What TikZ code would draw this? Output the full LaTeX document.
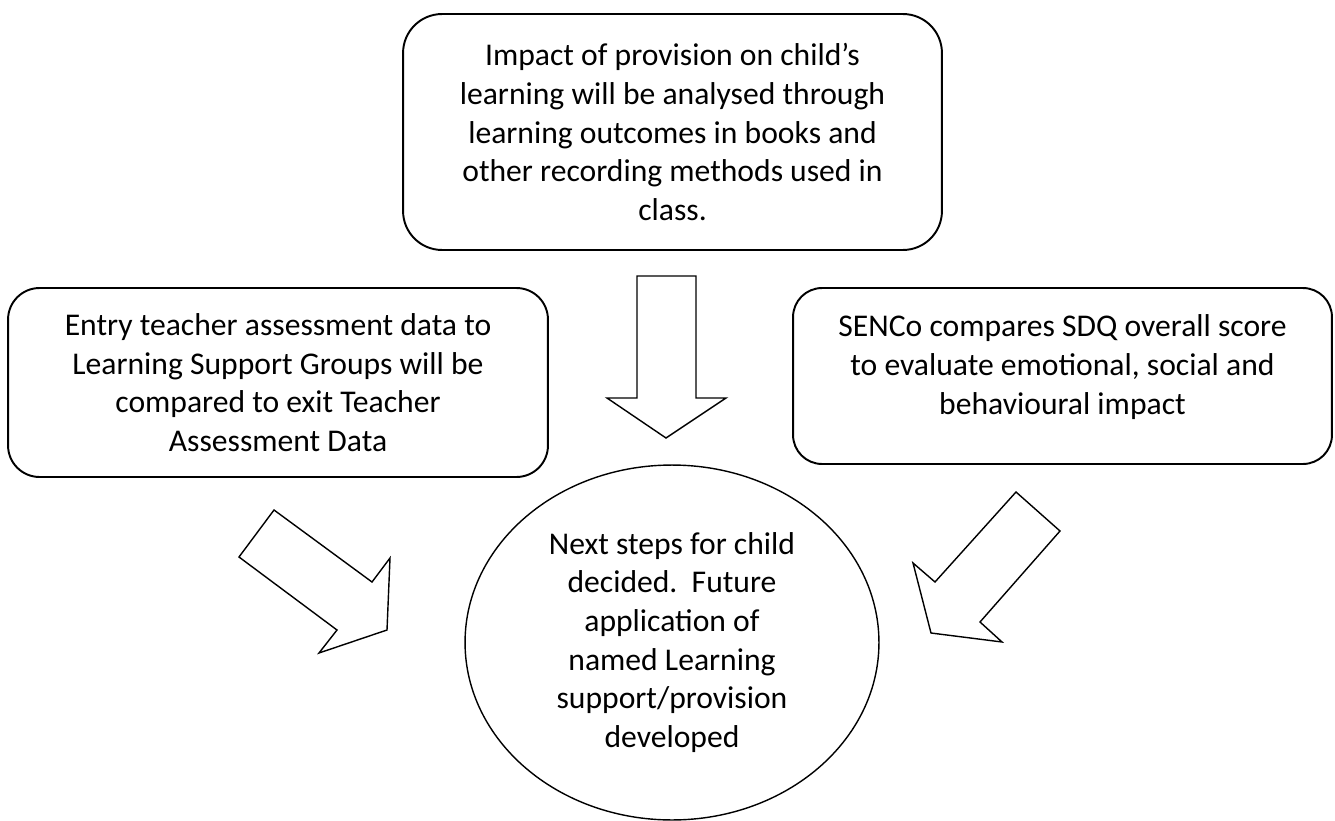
\documentclass[tikz,border=0pt]{standalone}
\usepackage{fontspec}
\setmainfont{Carlito}
\usetikzlibrary{shapes.geometric}

\begin{document}
\begin{tikzpicture}[x=0.02cm, y=-0.02cm,
  every node/.style={font=\fontsize{18}{22}\selectfont, align=center, outer sep=0pt},
  panel/.style={draw, line width=1.1pt, rounded corners=#1, inner sep=0pt},
  blob/.style={draw, ellipse, line width=0.8pt, inner sep=0pt},
  blockarrow/.style={draw, line width=0.8pt, line join=miter, fill=white}]
\useasboundingbox (0,0) rectangle (1335,821);

% --- Rounded boxes ---
\node[panel=0.78cm, minimum width=10.78cm, minimum height=4.72cm] (impact) at (672.5,132)
  {Impact of provision on child’s\\learning will be analysed through\\learning outcomes in books and\\other recording methods used in\\class.};

\node[panel=0.63cm, minimum width=10.8cm, minimum height=3.78cm] (entry) at (278,382.5)
  {Entry teacher assessment data to\\Learning Support Groups will be\\compared to exit Teacher\\Assessment Data};

\node[panel=0.58cm, minimum width=10.78cm, minimum height=3.52cm] (senco) at (1062.5,376) {};
\node (sencotext) at ([yshift=0.18cm]senco.center)
  {SENCo compares SDQ overall score\\to evaluate emotional, social and\\behavioural impact};

% --- Outcome ---
\node[blob, minimum width=8.28cm, minimum height=7.1cm] (nextsteps) at (672,642.5)
  {Next steps for child\\decided.~~Future\\application of\\named Learning\\support/provision\\developed};

% --- Block arrows ---
\draw[blockarrow] (637,276) -- (696,276) -- (696,398) -- (726,398) -- (666,438)
  -- (607,398) -- (637,398) -- cycle;
\draw[blockarrow] (274,510) -- (372,582) -- (390,558) -- (387,630) -- (319,653)
  -- (337,630) -- (239,557) -- cycle;
\draw[blockarrow] (1016,492) -- (1060,531) -- (980,622) -- (1002,642) -- (931,633)
  -- (913,563) -- (935,582) -- cycle;
\end{tikzpicture}
\end{document}
